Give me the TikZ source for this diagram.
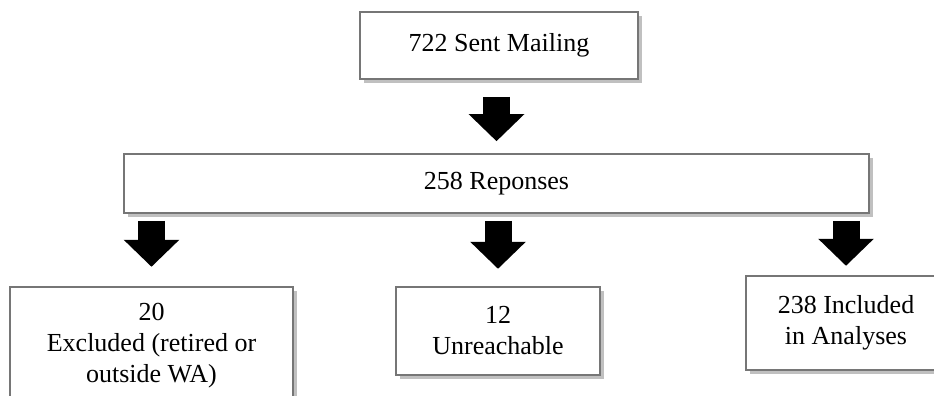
\documentclass[tikz,border=0pt]{standalone}
\usepackage{fontspec}
\setmainfont{Liberation Serif}
\usetikzlibrary{arrows.meta, shadows}
\definecolor{boxgray}{RGB}{118,118,118}
\definecolor{shadowgray}{RGB}{192,192,192}

\begin{document}
\begin{tikzpicture}[x=1pt, y=-1pt,
  bx/.style={rectangle, draw=boxgray, line width=1.6pt, fill=white,
    align=center, inner sep=0pt,
    font=\fontsize{26pt}{31pt}\selectfont,
    drop shadow={shadow xshift=3.5pt, shadow yshift=-4pt,
      fill=shadowgray, opacity=1}},
  blk/.style={line width=27pt, black, -{Triangle[length=27pt, width=54pt]}},
]
  \useasboundingbox (0,0) rectangle (934,396);
  \clip (0,0) rectangle (934,396);

  \node[bx, minimum width=278pt, minimum height=67pt] (sent) at (499,45.5) {722 Sent Mailing};
  \node[bx, minimum width=745pt, minimum height=59pt] (resp) at (496.5,183.5) {258 Reponses};

  % outcome boxes
  \node[bx, minimum width=283pt, minimum height=118pt] (excl) at (151.5,346) {20\\Excluded (retired or\\outside WA)};
  \node[bx, minimum width=204pt, minimum height=88pt] (unre) at (498,331) {12\\Unreachable};
  \node[bx, minimum width=200pt, minimum height=94pt] (incl) at (846,323) {238 Included\\in Analyses};

  % block arrows
  \draw[blk] ([yshift=-17pt]sent.south -| resp.north) -- ([yshift=12pt]resp.north);
  \draw[blk] ([yshift=-7pt]resp.south -| excl.north) -- ([yshift=-53pt]resp.south -| excl.north);
  \draw[blk] ([yshift=-7pt]resp.south -| unre.north) -- ([yshift=-55pt]resp.south -| unre.north);
  \draw[blk] ([yshift=-7pt]resp.south -| incl.north) -- ([yshift=-52pt]resp.south -| incl.north);
\end{tikzpicture}
\end{document}
